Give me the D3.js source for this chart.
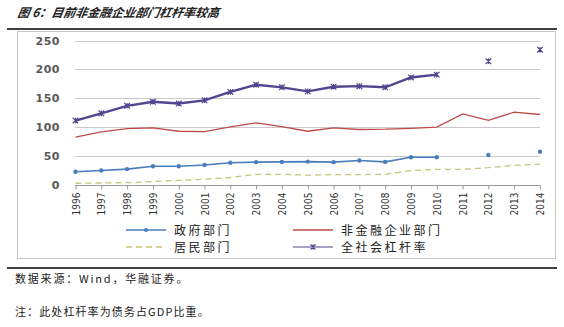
<!DOCTYPE html>
<html><head><meta charset="utf-8">
<script src="https://cdn.jsdelivr.net/npm/d3@7/dist/d3.min.js"></script>
<style>body{margin:0;background:#fff}svg{display:block}</style>
</head><body>
<svg id="c" width="564" height="327"></svg>
<script>
const years = ["1996","1997","1998","1999","2000","2001","2002","2003","2004","2005","2006","2007","2008","2009","2010","2011","2012","2013","2014"];
const government = [23,25,27.5,32.5,32.5,34.5,38.5,39.5,40,40.5,39.5,42.5,40,48,48,null,52,null,57.5];
const nonFinancial = [83,92,97.5,99,93,92.5,100.5,107.5,101,93,99,96,96.5,98,100,123,112,126,122];
const household = [3,3.5,4,6,8,10,13,18.5,18.5,17,18,18,18.5,25,27,27,30,34,36];
const total = [111.5,124,137,144,141,146.5,161,173.5,169,162,170,171,169,186,191,null,214,null,234];
const yTicks = [0,50,100,150,200,250];
const seriesNames = ["政府部门","非金融企业部门","居民部门","全社会杠杆率"];

const svg = d3.select("#c");
const font = "'Noto Sans CJK SC', 'Noto Sans', sans-serif";

// title
svg.append("text").attr("x",17).attr("y",17).attr("font-family",font).attr("font-size",12)
  .attr("font-weight","bold").attr("font-style","italic").attr("fill","#222")
  .attr("transform","skewX(-10) translate(3,0)")
  .text("图 6：目前非金融企业部门杠杆率较高");
svg.append("line").attr("x1",7).attr("x2",557).attr("y1",29).attr("y2",29).attr("stroke","#000").attr("stroke-width",1.5);
svg.append("rect").attr("x",17.5).attr("y",31.5).attr("width",538).attr("height",227).attr("fill","none").attr("stroke","#c8c8c8");
svg.append("line").attr("x1",7).attr("x2",557).attr("y1",268).attr("y2",268).attr("stroke","#000").attr("stroke-width",1.5);

svg.append("text").attr("x",15).attr("y",283).attr("font-family",font).attr("font-size",11).attr("letter-spacing",1.8).attr("fill","#222").text("数据来源：Wind，华融证券。");
svg.append("text").attr("x",15).attr("y",316).attr("font-family",font).attr("font-size",11).attr("letter-spacing",1.1).attr("fill","#222").text("注：此处杠杆率为债务占GDP比重。");

const x = d3.scalePoint().domain(years).range([75.5,540]);
const y = d3.scaleLinear().domain([0,250]).range([185,40.5]);

// grid
svg.append("g").selectAll("line").data(yTicks.filter(d=>d>0)).join("line")
  .attr("x1",75).attr("x2",540).attr("y1",d=>Math.round(y(d))+0.5).attr("y2",d=>Math.round(y(d))+0.5)
  .attr("stroke","#c9c9c9");

// y axis labels
svg.append("g").selectAll("text").data(yTicks).join("text")
  .attr("x",60).attr("y",d=>y(d)+4).attr("text-anchor","end")
  .attr("font-family","'DejaVu Sans', sans-serif").attr("font-size",11).attr("font-weight","bold").attr("fill","#595959")
  .attr("letter-spacing",0.5)
  .text(d=>d);

// x axis
const xAxis = svg.append("g").attr("transform",`translate(0,${Math.round(y(0))+0.5})`)
  .call(d3.axisBottom(x).tickSize(4).tickSizeOuter(0).tickPadding(4));
xAxis.select(".domain").attr("stroke","#999").attr("d",`M75,0H540`);
xAxis.selectAll(".tick line").attr("stroke","#999");
xAxis.selectAll(".tick text").attr("transform","rotate(-90)").attr("text-anchor","end")
  .attr("x",-7).attr("y",0).attr("dy","0.35em").attr("font-family","'Liberation Sans Narrow','DejaVu Sans Condensed',sans-serif")
  .attr("font-size",10).attr("fill","#333");

const line = d3.line().defined(d=>d[1]!=null).x(d=>x(d[0])).y(d=>y(d[1]));
const pairs = arr => years.map((yr,i)=>[yr,arr[i]]);

const cBlue="#4a7ebb", cRed="#be4b48", cGreen="#c6c67a", cPurple="#50458f";

svg.append("path").datum(pairs(household)).attr("d",line).attr("fill","none").attr("stroke",cGreen).attr("stroke-width",1.3).attr("stroke-dasharray","6,4");
svg.append("path").datum(pairs(nonFinancial)).attr("d",line).attr("fill","none").attr("stroke",cRed).attr("stroke-width",1.3);
svg.append("path").datum(pairs(government)).attr("d",line).attr("fill","none").attr("stroke",cBlue).attr("stroke-width",1.6);
svg.append("g").selectAll("circle").data(pairs(government).filter(d=>d[1]!=null)).join("circle")
  .attr("cx",d=>x(d[0])).attr("cy",d=>y(d[1])).attr("r",2.2).attr("fill",cBlue);
svg.append("path").datum(pairs(total)).attr("d",line).attr("fill","none").attr("stroke",cPurple).attr("stroke-width",2.4);
const star = (g,cx,cy,s,col)=>{
  g.append("path").attr("d",`M${cx-s},${cy-s}L${cx+s},${cy+s}M${cx-s},${cy+s}L${cx+s},${cy-s}M${cx},${cy-s}L${cx},${cy+s}`)
   .attr("stroke",col).attr("stroke-width",1.2).attr("fill","none");
};
const sg = svg.append("g");
pairs(total).filter(d=>d[1]!=null).forEach(d=>star(sg,x(d[0]),y(d[1]),2.8,cPurple));

// legend
const lg = svg.append("g").attr("font-family",font).attr("font-size",12).attr("fill","#222");
const legendItems = [
  {name:seriesNames[0], x:126, y:230, col:cBlue, dash:null, mark:"dot", w:1.6},
  {name:seriesNames[1], x:293, y:230, col:cRed, dash:null, mark:null, w:1.3},
  {name:seriesNames[2], x:126, y:247, col:cGreen, dash:"6,4", mark:null, w:1.3},
  {name:seriesNames[3], x:293, y:247, col:cPurple, dash:null, mark:"star", w:1.2}
];
legendItems.forEach(it=>{
  lg.append("line").attr("x1",it.x).attr("x2",it.x+40).attr("y1",it.y).attr("y2",it.y)
    .attr("stroke",it.col).attr("stroke-width",it.w).attr("stroke-dasharray",it.dash);
  if(it.mark==="dot") lg.append("circle").attr("cx",it.x+20).attr("cy",it.y).attr("r",2).attr("fill",it.col);
  if(it.mark==="star") star(lg,it.x+20,it.y,2.5,it.col);
  lg.append("text").attr("x",it.x+48).attr("y",it.y+4.5).attr("letter-spacing",2.5).text(it.name);
});
</script>
</body></html>
